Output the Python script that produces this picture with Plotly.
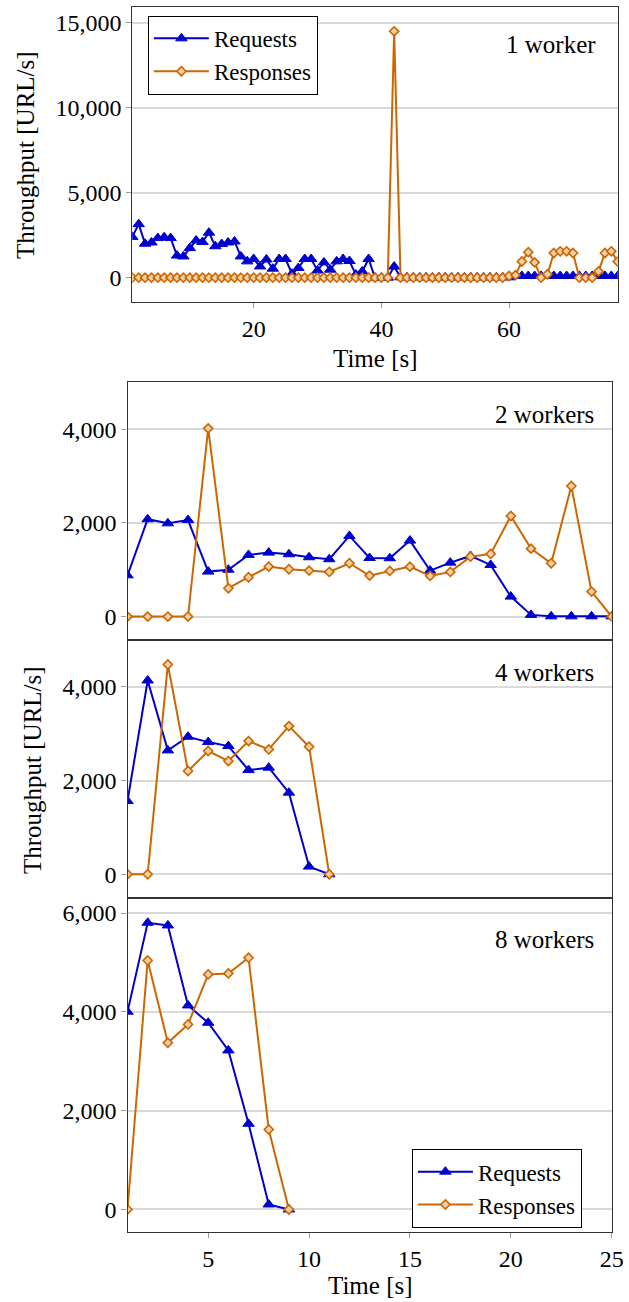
import plotly.graph_objects as go

# ---------------- data ----------------
t1 = list(range(1, 78))
req1 = [2400, 3150, 2000, 2070, 2330, 2380, 2330, 1300, 1250, 1740,
        2190, 2100, 2650, 1850, 1980, 2070, 2130, 1250, 960, 1100,
        660, 1070, 530, 1100, 1100, 230, 570, 1100, 1100, 420,
        900, 470, 960, 1100, 980, 180, 370, 1100, 0, 0,
        0, 650, 20, 20, 20, 20, 20, 20, 20, 20,
        20, 20, 20, 20, 20, 20, 20, 20, 20, 20,
        100, 100, 100, 100, 100, 100, 100, 100, 100, 100,
        100, 100, 100, 100, 100, 100, 100]
resp1 = [0, 0, 0, 0, 0, 0, 0, 0, 0, 0,
         0, 0, 0, 0, 0, 0, 0, 0, 0, 0,
         0, 0, 0, 0, 0, 0, 0, 0, 0, 0,
         0, 0, 0, 0, 0, 0, 0, 0, 0, 0,
         0, 14500, 0, 0, 0, 0, 0, 0, 0, 0,
         0, 0, 0, 0, 0, 0, 0, 0, 0, 100,
         150, 950, 1500, 900, 0, 200, 1450, 1550, 1550, 1450,
         0, 0, 0, 370, 1450, 1550, 950]

t2 = list(range(1, 26))
req2 = [880, 2077, 1990, 2060, 960, 1000, 1316, 1365, 1330, 1266,
        1224, 1721, 1250, 1245, 1621, 981, 1151, 1294, 1102, 426,
        36, 5, 5, 5, 5]
resp2 = [0, 0, 0, 0, 4017, 605, 840, 1066, 1010, 981,
         953, 1138, 874, 974, 1066, 868, 953, 1279, 1337, 2147,
         1450, 1138, 2787, 533, 0]

t4 = list(range(1, 12))
req4 = [1563, 4136, 2644, 2936, 2821, 2736, 2224, 2275, 1742, 164, 0]
resp4 = [0, 0, 4478, 2203, 2630, 2416, 2843, 2665, 3162, 2722, 0]

t8 = list(range(1, 10))
req8 = [4002, 5803, 5749, 4130, 3779, 3219, 1734, 101, 0]
resp8 = [0, 5040, 3374, 3745, 4757, 4777, 5094, 1619, 0]

panel_labels = ["1 worker", "2 workers", "4 workers", "8 workers"]
series_names = ["Requests", "Responses"]

# ---------------- style ----------------
W, H = 629, 1302
BLUE = "#0000CC"
ORANGE = "#CC6600"
FONT = "Liberation Serif"
FS_TICK = 24
FS = 25
FS_LEG = 23


def px_x(p):
    return p / W


def px_y(p):
    return 1 - p / H


fig = go.Figure()

panels = [
    (t1, req1, resp1, "x", "y"),
    (t2, req2, resp2, "x2", "y2"),
    (t4, req4, resp4, "x3", "y3"),
    (t8, req8, resp8, "x4", "y4"),
]

for i, (t, rq, rs, xa, ya) in enumerate(panels):
    show = i in (0, 3)
    lg = "legend" if i == 0 else "legend2"
    fig.add_trace(go.Scatter(
        x=t, y=rq, xaxis=xa, yaxis=ya, mode="lines+markers", name=series_names[0],
        line=dict(color=BLUE, width=2),
        marker=dict(symbol="triangle-up", size=10, color=BLUE, line=dict(color=BLUE, width=1)),
        showlegend=show, legend=lg))
    fig.add_trace(go.Scatter(
        x=t, y=rs, xaxis=xa, yaxis=ya, mode="lines+markers", name=series_names[1],
        line=dict(color=ORANGE, width=2),
        marker=dict(symbol="diamond", size=7, color="#F3CFA6", line=dict(color=ORANGE, width=1.6)),
        showlegend=show, legend=lg))

axis_common = dict(showline=True, mirror=True, linecolor="#333333", linewidth=1.2,
                   zeroline=False, tickfont=dict(family=FONT, size=FS_TICK, color="black"),
                   ticks="outside", ticklen=5, tickcolor="#999999")

top_x = (132.3, 617.7)
bot_x = (127.5, 611.7)
ydoms = [(6.7, 302.3), (382.3, 640.0), (640.0, 897.7), (897.7, 1231.7)]

layout = dict(
    width=W, height=H, margin=dict(l=0, r=0, t=0, b=0, autoexpand=False),
    paper_bgcolor="white", plot_bgcolor="white",
    font=dict(family=FONT, size=FS, color="black"),
)

layout["xaxis"] = dict(axis_common, domain=[px_x(top_x[0]), px_x(top_x[1])], range=[1, 77],
                       tickvals=[20, 40, 60], showgrid=False, anchor="y")
layout["yaxis"] = dict(axis_common, domain=[px_y(ydoms[0][1]), px_y(ydoms[0][0])],
                       range=[-1450, 15950], tickvals=[0, 5000, 10000, 15000], tickformat=",",
                       showgrid=True, gridcolor="#D9D9D9", gridwidth=1.5, anchor="x")

for k, (rng, tv) in zip([2, 3, 4], [([-500, 5000], [0, 2000, 4000]),
                                     ([-500, 5000], [0, 2000, 4000]),
                                     ([-450, 6310], [0, 2000, 4000, 6000])]):
    yd = ydoms[k - 1]
    layout[f"xaxis{k}"] = dict(axis_common, domain=[px_x(bot_x[0]), px_x(bot_x[1])], range=[1, 25],
                               tickvals=[5, 10, 15, 20, 25], showgrid=False, anchor=f"y{k}",
                               showticklabels=(k == 4), ticks="outside" if k == 4 else "")
    layout[f"yaxis{k}"] = dict(axis_common, domain=[px_y(yd[1]), px_y(yd[0])], range=rng,
                               tickvals=tv, tickformat=",", showgrid=True, gridcolor="#D9D9D9",
                               gridwidth=1.5, anchor=f"x{k}")

layout["legend"] = dict(x=px_x(147.7), y=px_y(15.7), xanchor="left", yanchor="top",
                        bordercolor="black", borderwidth=1.2, bgcolor="white",
                        font=dict(family=FONT, size=FS_LEG), itemwidth=55, tracegroupgap=0)
layout["legend2"] = dict(x=px_x(411.7), y=px_y(1149), xanchor="left", yanchor="top",
                         bordercolor="black", borderwidth=1.2, bgcolor="white",
                         font=dict(family=FONT, size=FS_LEG), itemwidth=55, tracegroupgap=0)

fig.update_layout(**layout)

ann = []
for lbl, (xr, yc) in zip(panel_labels, [(598, 44), (596, 415), (596, 672), (596, 940)]):
    ann.append(dict(text=lbl, x=px_x(xr), y=px_y(yc), xref="paper", yref="paper",
                    xanchor="right", yanchor="middle", showarrow=False,
                    font=dict(family=FONT, size=FS)))
ann.append(dict(text="Time [s]", x=px_x(375), y=px_y(358), xref="paper", yref="paper",
                xanchor="center", yanchor="middle", showarrow=False, font=dict(family=FONT, size=FS)))
ann.append(dict(text="Time [s]", x=px_x(370), y=px_y(1285), xref="paper", yref="paper",
                xanchor="center", yanchor="middle", showarrow=False, font=dict(family=FONT, size=FS)))
ann.append(dict(text="Throughput [URL/s]", x=px_x(25), y=px_y(155), xref="paper", yref="paper",
                xanchor="center", yanchor="middle", textangle=-90, showarrow=False,
                font=dict(family=FONT, size=FS)))
ann.append(dict(text="Throughput [URL/s]", x=px_x(32), y=px_y(770), xref="paper", yref="paper",
                xanchor="center", yanchor="middle", textangle=-90, showarrow=False,
                font=dict(family=FONT, size=FS)))
fig.update_layout(annotations=ann)

fig.write_html("out.html", config={"displayModeBar": False},
               post_script="document.body.style.margin='0';document.body.style.overflow='hidden';")
